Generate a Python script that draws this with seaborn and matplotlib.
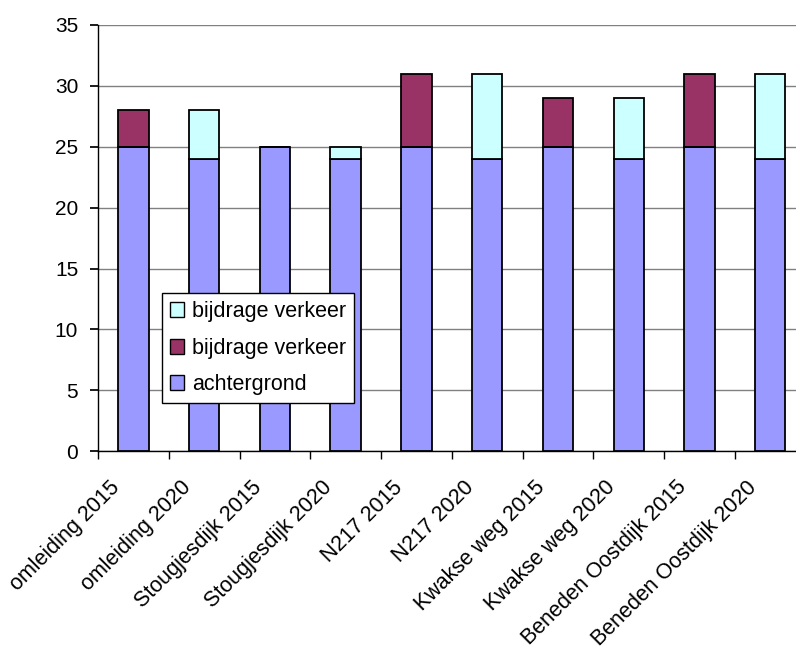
import matplotlib
matplotlib.use("Agg")
import matplotlib.pyplot as plt
import matplotlib.transforms as mtransforms
import seaborn as sns
import numpy as np
from matplotlib.patches import Patch

categories = ["omleiding 2015", "omleiding 2020", "Stougjesdijk 2015", "Stougjesdijk 2020",
              "N217 2015", "N217 2020", "Kwakse weg 2015", "Kwakse weg 2020",
              "Beneden Oostdijk 2015", "Beneden Oostdijk 2020"]
achtergrond = [25, 24, 25, 24, 25, 24, 25, 24, 25, 24]
verkeer_2015 = [3, 0, 0, 0, 6, 0, 4, 0, 6, 0]
verkeer_2020 = [0, 4, 0, 1, 0, 7, 0, 5, 0, 7]
legend_labels = ["bijdrage verkeer", "bijdrage verkeer", "achtergrond"]

c_bg = "#9999FF"
c_15 = "#993366"
c_20 = "#CCFFFF"

sns.set_theme(style="white")
plt.rcParams['font.family'] = ['Liberation Sans', 'DejaVu Sans']
plt.rcParams['text.color'] = 'black'
plt.rcParams['xtick.color'] = 'black'
plt.rcParams['ytick.color'] = 'black'

fig = plt.figure(figsize=(7.96, 6.51), dpi=100)
# the plot area runs slightly past the right edge of the picture, as in the reference
ax = fig.add_axes([0.1231, 0.307, 0.889, 0.6546])

w = 0.43
kw = dict(width=w, edgecolor="black", linewidth=1.3, saturation=1, zorder=3)
sns.barplot(x=categories, y=achtergrond, color=c_bg, ax=ax, **kw)
sns.barplot(x=categories, y=verkeer_2015, bottom=achtergrond, color=c_15, ax=ax, **kw)
sns.barplot(x=categories, y=verkeer_2020, bottom=achtergrond, color=c_20, ax=ax, **kw)

ax.set_ylim(0, 35)
ax.set_xlim(-0.5, len(categories) - 0.5)
ax.set_yticks(np.arange(0, 36, 5))
ax.yaxis.grid(True, color="#808080", linewidth=1.0, zorder=0)
ax.set_axisbelow(True)
for s in ["top", "right"]:
    ax.spines[s].set_visible(False)
ax.spines["left"].set_color("black")
ax.spines["bottom"].set_color("black")
ax.spines["left"].set_linewidth(1.0)
ax.spines["bottom"].set_linewidth(1.0)

ax.set_xticks(np.arange(len(categories)))
ax.set_xticklabels(categories, rotation=45, ha="right", va="top", rotation_mode="anchor",
                   fontsize=15.5, color="black")
ax.tick_params(axis="x", which="major", length=0, pad=12)
offset = mtransforms.ScaledTranslation(-0.24, -0.09, fig.dpi_scale_trans)
for lab in ax.get_xticklabels():
    lab.set_transform(lab.get_transform() + offset)
ax.set_xticks(np.arange(-0.5, len(categories), 1), minor=True)
ax.tick_params(axis="x", which="minor", length=5.8, color="black", direction="out", bottom=True)
ax.tick_params(axis="y", length=5.8, color="black", direction="out", left=True,
               labelsize=15, labelcolor="black", pad=8.5)

handles = [Patch(facecolor=c_20, edgecolor="black"),
           Patch(facecolor=c_15, edgecolor="black"),
           Patch(facecolor=c_bg, edgecolor="black")]
leg = ax.legend(handles, legend_labels, loc="lower left", bbox_to_anchor=(0.0904, 0.113),
                fontsize=15.5, frameon=True, fancybox=False, shadow=False,
                handlelength=0.67, handleheight=0.67, handletextpad=0.35,
                borderpad=0.36, labelspacing=0.72, borderaxespad=0)
leg.get_frame().set_edgecolor("black")
leg.get_frame().set_linewidth(1.0)
leg.get_frame().set_alpha(1)
leg.set_zorder(5)

fig.savefig("out.png", dpi=100)
